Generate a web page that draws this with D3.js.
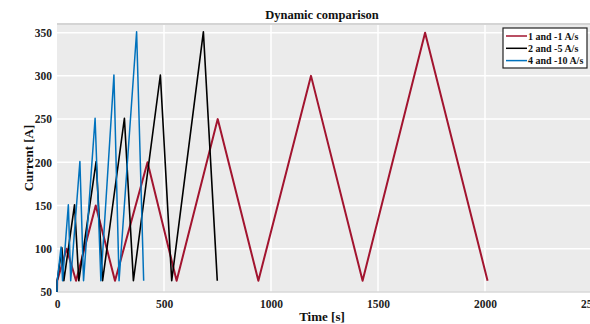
<!DOCTYPE html>
<html>
<head>
<meta charset="utf-8">
<script src="https://cdn.jsdelivr.net/npm/d3@7"></script>
<style>
  body { margin: 0; background: #fff; }
  text { font-family: "Liberation Serif", "DejaVu Serif", serif; font-weight: bold; }
</style>
</head>
<body>
<script>
// series vertices: [time s, current A]
var slow = [[0,50],[1,63],[45,100],[89,63],[181,150],[271,63],[423,200],[559,63],
            [751,250],[941,63],[1187,300],[1428,63],[1720,350],[2012,63]];
var mid  = [[0,50],[1,63],[23,101],[32,63],[82,151],[102,63],[183,201],[213,63],
            [315,251],[357,63],[483,301],[536,63],[684,351],[749,63]];
var fast = [[0,50],[1,63],[19,102],[26,63],[53,151],[64,63],[107,201],[124,63],
            [178,251],[205,63],[266,301],[290,63],[372,351],[405,63]];

var seriesNames = ["1 and -1 A/s", "2 and -5 A/s", "4 and -10 A/s"];
var seriesColors = ["#A2142F", "#000000", "#0072BD"];
var xTicks = [0, 500, 1000, 1500, 2000, 2500];
var yTicks = [50, 100, 150, 200, 250, 300, 350];

var W = 590, H = 324;
var mL = 57, mT = 24, mR = 592, mB = 292;

var svg = d3.select("body").append("svg")
    .attr("width", W)
    .attr("height", H);

var x = d3.scaleLinear().domain([0, 2500]).range([mL, mR]);
var y = d3.scaleLinear().domain([50, 360]).range([mB, mT]);

// plot background
svg.append("rect")
    .attr("x", mL).attr("y", mT)
    .attr("width", mR - mL).attr("height", mB - mT)
    .attr("fill", "#ebebeb");

// grid
svg.selectAll("line.vg")
    .data(xTicks.slice(1))
    .enter().append("line")
    .attr("x1", d => x(d)).attr("x2", d => x(d))
    .attr("y1", mT).attr("y2", mB)
    .attr("stroke", "#fff").attr("stroke-width", 1.5);

svg.selectAll("line.hg")
    .data(yTicks.slice(1))
    .enter().append("line")
    .attr("x1", mL).attr("x2", mR)
    .attr("y1", d => y(d)).attr("y2", d => y(d))
    .attr("stroke", "#fff").attr("stroke-width", 1.5);

// top and bottom border
svg.append("line")
    .attr("x1", mL).attr("x2", mR)
    .attr("y1", mT).attr("y2", mT)
    .attr("stroke", "#d4d4d4").attr("stroke-width", 2);
svg.append("line")
    .attr("x1", mL).attr("x2", mR)
    .attr("y1", mB).attr("y2", mB)
    .attr("stroke", "#d9d9d9").attr("stroke-width", 1.5);

// axes (labels only)
var xAxis = svg.append("g")
    .attr("transform", "translate(0," + mB + ")")
    .call(d3.axisBottom(x).tickValues(xTicks).tickFormat(d3.format("d")).tickSize(0).tickPadding(8));
var yAxis = svg.append("g")
    .attr("transform", "translate(" + mL + ",0)")
    .call(d3.axisLeft(y).tickValues(yTicks).tickSize(0).tickPadding(5));
[xAxis, yAxis].forEach(function(g) {
    g.select(".domain").remove();
    g.selectAll("text")
        .attr("font-family", "Liberation Serif")
        .attr("font-weight", "bold")
        .attr("font-size", "11.5px")
        .attr("fill", "#222");
});

// lines
var line = d3.line()
    .x(d => x(d[0]))
    .y(d => y(d[1]));

svg.append("clipPath").attr("id", "clip")
    .append("rect")
    .attr("x", mL - 2).attr("y", mT)
    .attr("width", mR - mL + 2).attr("height", mB - mT);

var all = [slow, mid, fast];
var widths = [2, 1.6, 1.5];
svg.append("g").attr("clip-path", "url(#clip)")
    .selectAll("path")
    .data(all)
    .enter().append("path")
    .attr("d", d => line(d))
    .attr("fill", "none")
    .attr("stroke", (d, i) => seriesColors[i])
    .attr("stroke-width", (d, i) => widths[i])
    .attr("stroke-linejoin", "round");

// title and labels
svg.append("text")
    .attr("x", 322).attr("y", 19)
    .attr("text-anchor", "middle")
    .attr("font-size", "12.5px")
    .attr("fill", "#111")
    .text("Dynamic comparison");

svg.append("text")
    .attr("x", 322).attr("y", 321)
    .attr("text-anchor", "middle")
    .attr("font-size", "13px")
    .attr("fill", "#111")
    .text("Time [s]");

svg.append("text")
    .attr("transform", "translate(33,158) rotate(-90)")
    .attr("text-anchor", "middle")
    .attr("font-size", "13px")
    .attr("fill", "#111")
    .text("Current [A]");

// legend
var legend = svg.append("g").attr("transform", "translate(503,28)");
legend.append("rect")
    .attr("width", 84).attr("height", 40)
    .attr("fill", "#fff")
    .attr("stroke", "#222").attr("stroke-width", 1.2);

var items = legend.selectAll("g.item")
    .data(seriesNames)
    .enter().append("g")
    .attr("transform", (d, i) => "translate(0," + (8 + i * 12.3) + ")");
items.append("line")
    .attr("x1", 3).attr("x2", 24)
    .attr("stroke", (d, i) => seriesColors[i])
    .attr("stroke-width", 1.5);
items.append("text")
    .attr("x", 25).attr("y", 3.5)
    .attr("font-size", "10px")
    .attr("fill", "#111")
    .text(d => d);
</script>
</body>
</html>
